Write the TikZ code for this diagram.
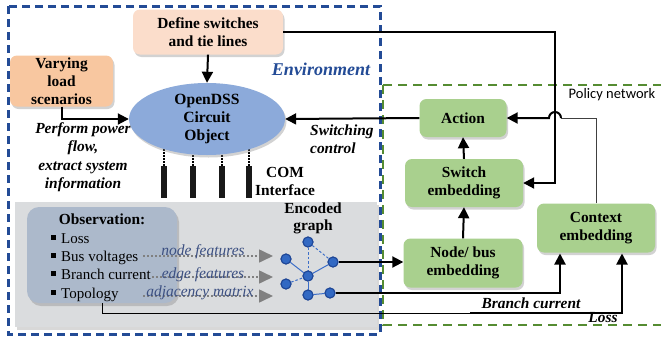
\documentclass[tikz,border=0pt]{standalone}
\usepackage{fontspec}
\setmainfont{Liberation Serif}
\newfontfamily\polfont{Carlito}
\usetikzlibrary{arrows.meta,shadows,shapes.geometric,calc}
\definecolor{envblue}{RGB}{35,75,150}
\definecolor{polgreen}{RGB}{85,140,50}
\definecolor{peach}{RGB}{251,221,203}
\definecolor{orangebox}{RGB}{248,199,160}
\definecolor{ellblue}{RGB}{140,170,218}
\definecolor{graybg}{RGB}{218,220,222}
\definecolor{obsbox}{RGB}{172,185,203}
\definecolor{greenbox}{RGB}{169,208,142}
\definecolor{nodeblue}{RGB}{50,105,195}
\definecolor{nodeline}{RGB}{30,70,150}
\definecolor{txtblue}{RGB}{60,80,130}
\definecolor{edgeblue}{RGB}{60,110,200}
\tikzset{
  txt/.style={font=\fontsize{15}{18}\selectfont, inner sep=0pt},
  bx/.style={rounded corners=7pt, align=center, inner sep=2pt,
    font=\fontsize{15.4}{18}\selectfont\bfseries,
    drop shadow={shadow xshift=1.5pt,shadow yshift=-2.5pt,opacity=0.35}},
  greenb/.style={bx, fill=greenbox},
  arr/.style={line width=2pt, -{Triangle[length=11pt,width=11pt]}},
  thinln/.style={line width=1pt},
  gdot/.style={gray, line width=1.6pt, dash pattern=on 1.6pt off 2.4pt,
    -{Triangle[length=14pt,width=13pt,fill=gray]}},
  gtxt/.style={txt, font=\fontsize{15.5}{16}\selectfont\itshape, text=txtblue},
  gnode/.style={circle, fill=nodeblue, draw=nodeline, line width=1pt, minimum size=10pt, inner sep=0pt},
  gedge/.style={edgeblue, line width=1pt},
  gedged/.style={edgeblue, line width=1pt, dash pattern=on 2.5pt off 2pt},
  lbl/.style={txt, font=\fontsize{15.4}{18.5}\selectfont\bfseries\itshape, align=center},
}
\begin{document}
\begin{tikzpicture}[x=1pt,y=-1pt]
\useasboundingbox (0,0) rectangle (661,343);
\clip (0,0) rectangle (661,343);
\fill[white] (0,0) rectangle (661,343);
% gray background
\fill[graybg, drop shadow={shadow xshift=1.5pt,shadow yshift=-2.5pt,opacity=0.3}] (15,202) rectangle (377,327);
% environment box
\draw[envblue, line width=3pt, dash pattern=on 8pt off 5pt] (8,6) rectangle (380,334);
% policy box
\draw[polgreen, line width=2.5pt, dash pattern=on 9pt off 6pt] (383,85) rectangle (680,325);
\node[txt, font=\fontsize{14.5}{18}\polfont, anchor=base] (pn) at (612,98) {Policy network};
\node[lbl, font=\fontsize{18}{20}\selectfont\bfseries\itshape, text=envblue, anchor=base] (envl) at (321,75) {Environment};

% boxes
\node[bx, fill=peach, minimum width=150pt, minimum height=45pt] (def) at (208,32) {Define switches\\and tie lines};
\node[bx, fill=orangebox, minimum width=103pt, minimum height=51pt] (var) at (61.5,81) {Varying\\load\\scenarios};

% dotted COM lines and bars
\foreach \xx in {164,193,222,249}{
  \draw[line width=1.5pt, dash pattern=on 1.5pt off 1.5pt] (\xx,140) -- (\xx,166);
  \fill[black!90] (\xx-3.4,166) rectangle (\xx+3.4,198);
}
\node[ellipse, fill=ellblue, minimum width=156pt, minimum height=72pt, align=center,
  font=\fontsize{15.6}{18}\selectfont\bfseries, inner sep=0pt,
  drop shadow={shadow xshift=1.5pt,shadow yshift=-2.5pt,opacity=0.35}] (ell) at (207,119) {OpenDSS\\Circuit\\Object};
\node[txt, font=\fontsize{15.4}{18}\selectfont\bfseries, align=center] (com) at (285,181) {COM\\Interface};

\node[lbl] (pf) at (83,157) {Perform power\\flow,\\extract system\\information};
\node[lbl, align=left, anchor=west] (sc) at (310,139) {Switching\\control};

% green boxes
\node[greenb, minimum width=87pt, minimum height=38pt] (act) at (463,118) {Action};
\node[greenb, minimum width=118pt, minimum height=48pt] (sw) at (464,183) {Switch\\embedding};
\node[greenb, minimum width=119pt, minimum height=49pt] (nb) at (463,263) {Node/ bus\\embedding};
\node[greenb, minimum width=118pt, minimum height=49pt] (ctx) at (596,228) {Context\\embedding};

% observation
\node[rounded corners=12pt, fill=obsbox, minimum width=150pt, minimum height=96pt,
  drop shadow={shadow xshift=2pt,shadow yshift=-3pt,opacity=0.35}] (obs) at (102,255) {};
\node[txt, font=\fontsize{15.4}{18}\selectfont\bfseries, anchor=base] (obst) at (102,224) {Observation:};
\foreach \yy/\tt/\nm in {243/Loss/o1, 261/Bus voltages/o2, 279/Branch current/o3, 298/Topology/o4}{
  \fill (50.5,\yy-8) rectangle (55.5,\yy-3);
  \node[txt, anchor=base west] (\nm) at (61,\yy) {\tt};
}

% dotted feature arrows
\coordinate (f1s) at (143,256); \coordinate (f1e) at (273,256);
\coordinate (f2s) at (152,277); \coordinate (f2e) at (273,277);
\coordinate (f3s) at (143,296); \coordinate (f3e) at (273,296);
\draw[gdot] (f1s) -- (f1e);
\draw[gdot] (f2s) -- (f2e);
\draw[gdot] (f3s) -- (f3e);
\node[gtxt, anchor=base] (ft1) at (203,255) {node features};
\node[gtxt, anchor=base] (ft2) at (203,278) {edge features};
\node[gtxt, anchor=base] (ft3) at (200,296) {adjacency matrix};

% encoded graph
\node[txt, font=\fontsize{15.4}{17}\selectfont\bfseries, align=center] (eg) at (313,218) {Encoded\\graph};
\node[gnode] (g1) at (308,242) {};
\node[gnode] (g2) at (286,259) {};
\node[gnode] (g3) at (333,262) {};
\node[gnode] (g4) at (308,276) {};
\node[gnode] (g5) at (286,284) {};
\node[gnode] (g6) at (308,295) {};
\node[gnode] (g7) at (330,293) {};
\draw[gedge] (g2) -- (g4);
\draw[gedge] (g4) -- (g3);
\draw[gedge] (g4) -- (g6);
\draw[gedge] (g6) -- (g7);
\draw[gedged] (g1) -- (g4);
\draw[gedged] (g1) -- (g3);
\draw[gedged] (g5) -- (g4);
\foreach \g in {g1,g2,g3,g4,g5,g6,g7}{\node[gnode] at (\g) {};}

% connectors
\draw[arr] (def.south) -- (ell.north);
\draw[arr] (var.south) |- (ell.west);
\draw[arr] (act.west) -- (ell.east);
\coordinate (dc) at (555,32);
\draw[arr] (def.east) -- (dc) |- (sw.east);
\draw[arr] (nb.north) -- (sw.south);
\draw[arr] (sw.north) -- (act.south);
\coordinate (ct) at (596,118);
\coordinate (hr) at (561,118);
\draw[line width=1pt, black!75] (ctx.north) -- (ct) -- (hr);
\draw[arr] (hr) arc (0:-180:6) -- (act.east);
\draw[arr] (g3.east) -- (g3.east -| nb.west);
\coordinate (cb) at (560,253.5);
\draw[arr] (g7.east) -| (cb);
\coordinate (tp1) at (102,313);
\coordinate (tp2) at (470,313);
\coordinate (cl) at (622,253.5);
\draw[thinln] (102,303) -- (tp1) -- (tp2);
\draw[arr] (tp2) -| (cl);
\node[lbl, anchor=base] (bcl) at (531,308) {Branch current};
\node[lbl, anchor=base] (lsl) at (603,322) {Loss};
\end{tikzpicture}
\end{document}
